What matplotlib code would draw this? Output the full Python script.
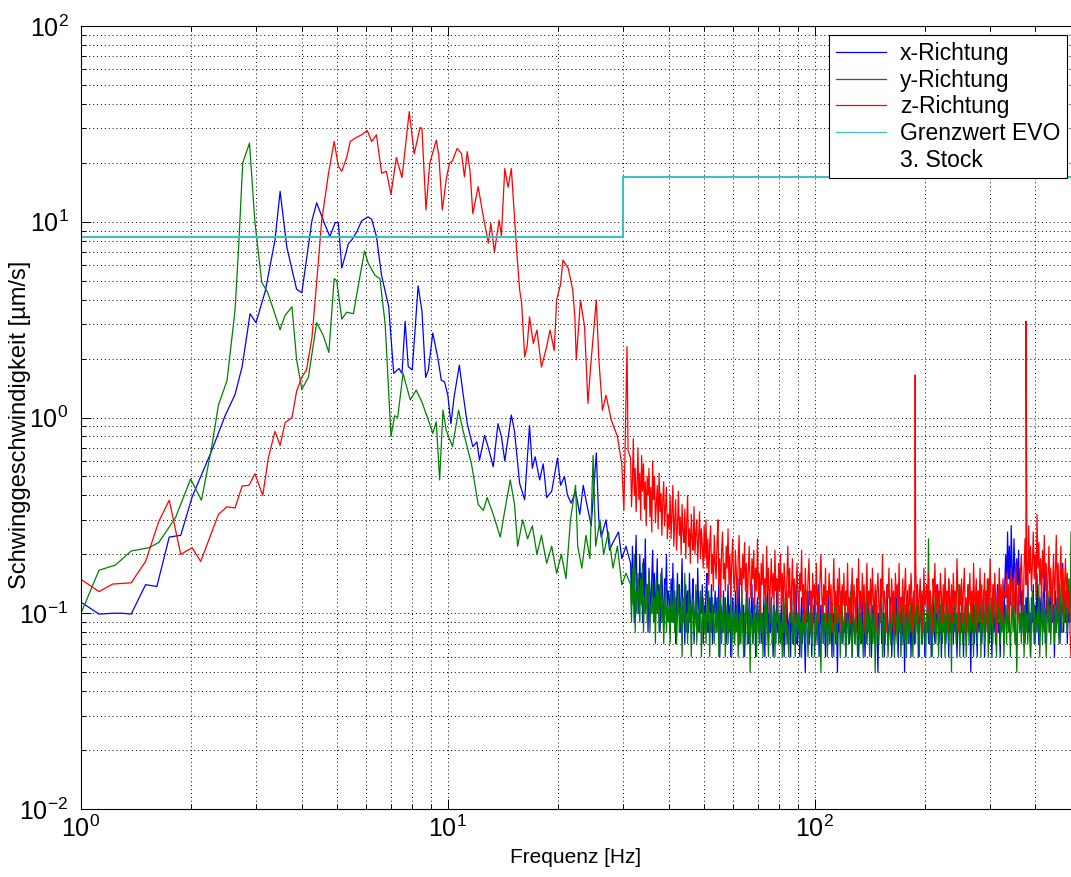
import numpy as np
import matplotlib.pyplot as plt
from matplotlib.lines import Line2D
from matplotlib.ticker import NullFormatter

plt.rcParams['font.family'] = ['Liberation Sans', 'DejaVu Sans']
plt.rcParams['mathtext.fontset'] = 'custom'
plt.rcParams['mathtext.rm'] = 'Liberation Sans'
plt.rcParams['mathtext.it'] = 'Liberation Sans:italic'

# --- low frequency part (1 .. 31 Hz), read point by point, in um/s ---
blue_f = [1.0, 1.12, 1.22, 1.30, 1.37, 1.50, 1.61, 1.74, 1.87, 2.01, 2.27, 2.47,
          2.63, 2.75, 2.89, 3.0, 3.18, 3.38, 3.49, 3.64, 3.87, 4.0, 4.26, 4.39,
          4.62, 4.77, 4.93, 5.03, 5.14, 5.36, 5.47, 5.65, 5.82, 6.06, 6.2, 6.39,
          6.6, 6.9, 7.12, 7.36, 7.5, 7.65, 7.8, 8.0, 8.3, 8.5, 8.7, 8.85, 9.1,
          9.4, 9.6, 9.8, 10.0, 10.2, 10.4, 10.75, 11.0, 11.3, 11.7, 12.0, 12.2,
          12.6, 12.9, 13.3, 13.7, 14.0, 14.3, 14.9, 15.2, 15.7, 16.2, 16.7, 17.0,
          17.3, 17.8, 18.2, 18.6, 19.2, 19.9, 20.3, 20.8, 21.2, 21.7, 22.3, 22.9,
          23.4, 23.9, 24.6, 25.4, 25.8, 26.2, 27.0, 27.6, 28.2, 29.2, 29.8, 30.6]
blue_v = [0.114, 0.099, 0.100, 0.100, 0.099, 0.140, 0.137, 0.245, 0.250, 0.394,
          0.675, 1.02, 1.31, 1.82, 3.39, 3.05, 4.43, 8.07, 14.3, 7.43, 4.52, 4.34,
          10.1, 12.5, 9.7, 8.4, 9.9, 9.9, 5.8, 7.74, 8.07, 8.9, 10.1, 10.6, 10.3,
          8.4, 5.3, 3.68, 1.68, 1.78, 1.68, 3.1, 1.82, 1.75, 4.7, 3.5, 1.6, 1.75,
          2.7, 2.0, 1.55, 1.52, 1.3, 0.93, 1.27, 1.85, 1.33, 0.93, 0.71, 0.75,
          0.605, 0.81, 0.70, 0.56, 0.93, 0.80, 0.60, 1.03, 0.85, 0.46, 0.38, 0.91,
          0.55, 0.63, 0.48, 0.58, 0.39, 0.42, 0.62, 0.45, 0.50, 0.40, 0.365, 0.42,
          0.32, 0.45, 0.365, 0.28, 0.66, 0.30, 0.245, 0.30, 0.21, 0.23, 0.26, 0.19,
          0.22]

green_f = [1.0, 1.12, 1.24, 1.37, 1.53, 1.63, 1.81, 1.99, 2.13, 2.27, 2.37, 2.5,
           2.63, 2.69, 2.76, 2.88, 2.98, 3.11, 3.23, 3.49, 3.60, 3.76, 3.87, 4.0,
           4.17, 4.39, 4.57, 4.74, 4.90, 4.98, 5.14, 5.3, 5.53, 5.7, 5.93, 6.06,
           6.33, 6.53, 6.75, 7.0, 7.16, 7.3, 7.55, 7.9, 8.2, 8.5, 8.85, 9.1, 9.3,
           9.5, 9.7, 9.9, 10.3, 10.7, 11.0, 11.6, 12.1, 12.5, 12.8, 13.3, 13.9,
           14.3, 14.8, 15.2, 15.5, 16.0, 16.5, 17.0, 17.5, 18.0, 18.6, 19.2, 19.8,
           20.4, 21.0, 21.6, 22.3, 22.6, 23.2, 23.8, 24.4, 24.9, 25.3, 26.0, 26.6,
           27.4, 28.2, 29.0, 29.8, 30.6]
green_v = [0.10, 0.166, 0.176, 0.208, 0.216, 0.23, 0.308, 0.485, 0.378, 0.70,
           1.16, 1.54, 3.53, 7.43, 20.0, 25.2, 9.9, 4.91, 4.34, 2.81, 3.32, 3.68,
           1.98, 1.39, 1.61, 3.05, 2.64, 2.15, 5.12, 5.0, 3.18, 3.45, 3.39, 4.71,
           7.1, 6.17, 5.33, 5.12, 2.99, 0.80, 1.02, 1.0, 1.68, 1.23, 1.38, 1.2,
           0.97, 0.83, 0.95, 0.48, 1.09, 0.86, 0.71, 1.09, 0.86, 0.58, 0.36,
           0.335, 0.39, 0.32, 0.245, 0.335, 0.48, 0.36, 0.22, 0.30, 0.24, 0.28,
           0.20, 0.25, 0.18, 0.22, 0.16, 0.20, 0.15, 0.30, 0.45, 0.22, 0.17, 0.25,
           0.19, 0.64, 0.22, 0.30, 0.20, 0.26, 0.17, 0.22, 0.14, 0.16]

red_f = [1.0, 1.12, 1.22, 1.37, 1.50, 1.63, 1.74, 1.79, 1.87, 2.01, 2.12, 2.37,
         2.5, 2.63, 2.75, 2.87, 2.98, 3.13, 3.24, 3.38, 3.49, 3.6, 3.76, 3.87,
         4.0, 4.12, 4.26, 4.39, 4.53, 4.73, 4.9, 5.03, 5.14, 5.3, 5.42, 5.6,
         5.82, 6.03, 6.2, 6.39, 6.6, 6.8, 7.0, 7.24, 7.5, 7.85, 8.1, 8.4, 8.5,
         8.72, 8.93, 9.3, 9.45, 9.66, 9.9, 10.1, 10.3, 10.6, 10.9, 11.1, 11.3,
         11.5, 11.7, 12.1, 12.5, 12.9, 13.1, 13.4, 13.8, 14.0, 14.3, 14.6, 14.9,
         15.2, 15.4, 15.7, 15.9, 16.2, 16.45, 16.7, 17.1, 17.5, 18.0, 18.6, 19.0,
         19.5, 19.8, 20.3, 20.6, 21.3, 21.9, 22.2, 22.4, 23.0, 23.6, 24.1, 24.5,
         25.4, 25.8, 26.4, 27.0, 27.9, 29.0, 29.8, 30.2, 30.8, 31.0]
red_v = [0.149, 0.129, 0.141, 0.143, 0.184, 0.295, 0.378, 0.295, 0.20, 0.216,
         0.184, 0.32, 0.35, 0.345, 0.447, 0.45, 0.516, 0.40, 0.62, 0.85, 0.72,
         0.94, 1.0, 1.36, 1.61, 1.75, 2.54, 4.9, 10.1, 17.7, 25.7, 19.2, 18.1,
         21.3, 25.7, 26.8, 27.8, 29.3, 25.7, 27.8, 17.7, 18.1, 13.8, 21.3, 16.8,
         36.5, 22.2, 30.3, 30.0, 11.5, 19.9, 26.1, 22.0, 11.5, 16.4, 19.9, 20.5,
         23.7, 22.3, 17.0, 22.8, 18.0, 11.0, 15.1, 10.6, 7.77, 9.8, 7.0, 10.2,
         8.5, 18.7, 15.0, 18.7, 10.6, 7.2, 4.48, 3.83, 2.04, 2.3, 3.27, 2.39,
         2.8, 1.81, 2.3, 2.8, 2.2, 3.98, 4.8, 6.37, 5.78, 4.5, 3.27, 1.97, 3.98,
         2.9, 1.18, 1.8, 3.98, 2.0, 1.09, 1.3, 0.97, 0.80, 0.58, 0.335, 2.3, 0.68]

# --- noise floor 31.5 .. 500 Hz, log spaced bins, in 1/100 um/s ---
blue_noise = [
    18, 11, 22, 14, 9, 17, 25, 12, 15, 10, 20, 13, 16, 9, 19, 12, 24, 11, 14, 8,
    17, 13, 10, 15, 21, 11, 16, 9, 13, 19, 10, 14, 8, 12, 17, 11, 9, 15, 12, 20,
    10, 13,
    12, 8, 15, 10, 18, 9, 13, 7, 11, 16, 10, 14, 8, 12, 19, 9, 11, 7, 14, 10,
    13, 8, 16, 11, 9, 12, 15, 7, 10, 13, 9, 17, 11, 8, 12, 10, 14, 7, 11, 9,
    13, 16, 8, 10, 12, 9, 14, 7, 11, 10, 13, 8, 12, 9, 15, 6, 11, 10, 8, 13,
    9, 12, 7, 10, 14, 8, 11, 6, 9, 12, 10, 7, 13, 9, 11, 8, 15, 7, 10, 12,
    8, 11, 6, 9, 13, 10, 7, 12, 8, 10, 14, 7, 9, 11, 6, 10, 12, 8, 9, 13,
    7, 10, 8, 12, 6, 11, 9, 14, 7, 10, 8, 12, 9, 6, 11, 10, 7, 13, 8, 9,
    10, 7, 12, 8, 9, 6, 11, 8, 13, 7, 9, 10, 6, 12, 8, 7, 11, 9, 14, 7,
    8, 10, 6, 9, 12, 7, 11, 8, 5, 10, 9, 13, 7, 8, 11, 6, 10, 9, 12, 7,
    8, 10, 14, 6, 9, 11, 7, 12, 8, 9, 6, 10, 8, 13, 7, 9, 11, 6, 10, 8,
    12, 7, 9, 5, 11, 8, 10, 13, 7, 9, 8, 11, 6, 10, 9, 12, 7, 8, 14, 6,
    10, 9, 7, 11, 8, 12, 6, 9, 10, 7, 13, 8, 9, 6, 11, 7, 10, 12, 8, 9,
    6, 10, 11, 7, 9, 13, 8, 5, 10, 9, 12, 7, 8, 11, 6, 10, 9, 14, 7, 8,
    10, 12, 6, 9, 11, 7, 8, 13, 9, 6, 10, 8, 12, 7, 9, 11, 5, 10, 8, 13,
    7, 9, 10, 6, 12, 8, 11, 7, 9, 10, 14, 6, 8, 11, 9, 7, 12, 10, 6, 9,
    8, 13, 7, 10, 11, 6, 9, 12, 8, 7, 10, 9, 14, 7, 8, 11, 6, 10, 12, 8,
    9, 7, 11, 10, 6, 13, 8, 9, 12, 7, 11, 8, 10, 6, 9, 13, 7, 10, 8, 12,
    6, 9, 11, 7, 10, 14, 8, 9, 5, 11, 8, 12, 7, 10, 9, 6, 13, 8, 11, 9,
    7, 10, 12, 6, 9, 11, 8, 13, 7, 10, 9, 6, 12, 8, 11, 7, 10, 14, 8, 9,
    6, 11, 9, 12, 7,
    14, 20, 12, 26, 15, 22, 11, 28, 17, 13, 24, 16, 10, 19, 14, 21, 11, 17,
    9, 13, 8, 11, 7, 12, 9, 15, 8, 10, 6, 12, 9, 14, 7, 11, 8, 16, 10, 7,
    12, 9, 13, 8, 11, 17, 7, 10, 14, 9, 12, 8, 15, 10, 9, 11, 6, 13, 8, 12,
    9, 14, 7, 11, 10, 18, 8, 12, 9, 13, 7, 11, 9, 15, 10]

green_noise = [
    14, 9, 17, 11, 20, 8, 13, 10, 16, 12, 9, 15, 11, 18, 8, 12, 10, 14, 9, 13,
    16, 8, 11, 10, 14, 9, 12, 7, 15, 10, 13, 8, 11, 16, 9, 12, 7, 10, 14, 8,
    11, 9,
    11, 7, 13, 9, 10, 15, 8, 12, 7, 10, 14, 8, 9, 11, 6, 12, 9, 16, 8, 10,
    7, 13, 9, 11, 6, 10, 12, 8, 9, 14, 7, 10, 8, 11, 13, 6, 9, 12, 8, 10,
    7, 11, 9, 13, 6, 10, 8, 12, 9, 7, 11, 10, 8, 12, 6, 9, 13, 7, 10, 8,
    12, 6, 9, 11, 7, 10, 8, 14, 6, 9, 11, 7, 10, 8, 12, 6, 9, 10, 7, 13,
    8, 6, 10, 9, 12, 7, 8, 11, 5, 10, 9, 7, 12, 8, 10, 6, 11, 9, 7, 13,
    8, 10, 6, 9, 11, 7, 12, 8, 6, 10, 9, 12, 7, 8, 11, 6, 10, 9, 13, 7,
    10, 7, 9, 6, 11, 8, 12, 7, 9, 8, 6, 10, 9, 13, 7, 8, 11, 6, 9, 10,
    8, 12, 7, 9, 6, 10, 8, 11, 7, 13, 9, 6, 10, 8, 12, 7, 9, 11, 6, 8,
    10, 7, 13, 9, 8, 5, 11, 9, 7, 10, 8, 12, 6, 9, 10, 7, 11, 8, 9, 6,
    13, 8, 7, 10, 9, 11, 6, 8, 12, 7, 9, 10, 6, 8, 11, 7, 9, 13, 8, 6,
    10, 9, 7, 12, 8, 6, 9, 11, 7, 10, 8, 6, 11, 9, 7, 13, 8, 10, 6, 9,
    12, 7, 8, 10, 5, 9, 11, 8, 7, 10, 9, 13, 6, 8, 10, 7, 12, 9, 6, 8,
    11, 7, 9, 10, 8, 6, 12, 9, 7, 11, 8, 10, 6, 9, 13, 7, 8, 11, 6, 10,
    9, 7, 12, 8, 10, 6, 9, 11, 7, 13, 8, 9, 6, 10, 12, 7, 8, 11, 9, 6,
    10, 8, 24, 7, 9, 11, 6, 10, 8, 12, 7, 9, 10, 6, 11, 8, 13, 7, 9, 10,
    6, 12, 8, 9, 7, 11, 10, 5, 13, 8, 9, 11, 7, 10, 8, 14, 6, 9, 12, 7,
    10, 8, 11, 6, 9, 13, 7, 10, 8, 12, 9, 6, 11, 8, 14, 7, 10, 9, 12, 6,
    11, 8, 13, 7, 10, 9, 15, 6, 11, 8, 12, 9, 7, 14, 10, 8, 6, 11, 9, 13,
    7, 10, 8, 12, 6, 9, 11, 7, 13, 8, 10, 6, 9, 12, 8, 11, 7, 10, 5, 9,
    13, 8, 10, 7, 12, 9, 6, 11, 8, 10, 7, 12, 9, 6, 10, 13, 8, 11, 7, 9,
    10, 8, 14, 6, 9, 11, 7, 12, 8, 10, 6, 9, 13, 8, 11, 7, 10, 12, 9, 7,
    11, 8, 12, 9, 7, 14, 10, 8, 16, 11, 9, 13, 10, 8, 15, 11, 9, 26]

red_noise = [
    62, 35, 48, 78, 40, 55, 33, 45, 70, 38, 52, 30, 64, 42, 58, 34, 47, 28, 50, 40,
    55, 31, 44, 26, 60, 38, 50, 29, 36, 45, 27, 52, 33, 41, 25, 38, 47, 28, 35, 44,
    24, 32,
    27, 40, 24, 33, 45, 22, 30, 38, 21, 28, 42, 25, 31, 20, 36, 26, 23, 34, 19, 29,
    40, 22, 27, 18, 32, 24, 21, 35, 20, 26, 30, 18, 24, 33, 19, 27, 22, 17, 28,
    19, 30, 17, 24, 14, 22, 28, 16, 20, 13, 25, 18, 15, 23, 30, 14, 19, 12, 21, 26,
    15, 18, 13, 22, 17, 27, 14, 20, 12, 18, 24, 15, 13, 21, 16, 11, 19, 25, 14, 17,
    12, 20, 15, 23, 13, 18, 11, 16, 22, 14, 12, 19, 15, 21, 11, 17, 13, 24, 12, 16,
    10, 18, 14, 20, 12, 15, 11, 22, 13, 17, 10, 14, 19, 12, 16, 11, 21, 13, 15, 10,
    18,
    13, 20, 11, 16, 10, 18, 14, 9, 15, 22, 12, 17, 10, 13, 19, 11, 15, 9, 14, 18,
    12, 10, 16, 13, 21, 11, 14, 9, 17, 12, 10, 15, 19, 11, 13, 8, 16, 12, 14, 10,
    18, 11, 13, 9, 15, 20, 12, 10, 14, 11, 17, 9, 13, 12, 16, 10, 14, 8, 12, 19,
    11, 13, 9, 15, 10, 17, 12, 8, 14, 11, 16, 9, 13, 11, 18, 10, 12, 9,
    12, 17, 9, 14, 11, 8, 15, 12, 19, 10, 13, 9, 16, 11, 14, 8, 12, 18, 10, 13,
    11, 15, 9, 17, 12, 10, 14, 8, 13, 16, 11, 9, 15, 12, 20, 10, 13, 11, 8, 14,
    12, 17, 9, 11, 15, 10, 13, 8, 16, 12, 14, 10, 18, 9, 12, 11, 15, 8, 13, 17,
    10, 12, 9, 14, 11, 16, 12, 8, 13, 10, 19, 11, 14, 9, 12, 15, 10, 13, 8, 17,
    11, 12, 14, 9, 16, 10, 13, 11, 8, 15, 12, 18, 10, 14, 9, 13, 11, 16, 12, 9,
    14, 10, 17, 11, 13, 8, 15, 12, 10, 14, 9, 16, 11, 13, 10, 19, 12, 8, 14, 11,
    15, 9, 13, 17, 10, 12, 8, 14, 11, 16, 10, 13, 9, 18, 12, 11, 15, 8, 13, 10,
    17, 11, 14, 9, 12, 16, 10, 13, 8, 15, 11, 19, 12, 9, 14, 10, 16, 12, 8, 13,
    11, 17, 10, 14, 9, 15, 12, 13,
    12, 16, 10, 14, 9, 13, 17, 11, 15, 10, 13, 18, 12, 9, 14, 11, 16, 20, 13, 10,
    17, 24, 14, 19, 12, 28, 16, 22, 13, 18, 26, 15, 20, 12, 32, 17, 23, 14, 19, 11,
    21, 15, 25, 13, 18, 10, 16, 22, 12, 17, 9, 14, 20, 11, 16, 25, 12, 18, 10, 15,
    22, 12, 17, 9, 14, 19, 11, 16, 10, 13, 8, 6]

# narrow peaks in z direction
red_peak_f = [188.0, 377.0]
red_peak_v = [1.65, 3.1]

# limit EVO, 3rd floor
limit_f = [1.0, 30.0, 30.0, 500.0]
limit_v = [8.4, 8.4, 17.0, 17.0]

NOISE_START = 31.5
F_MAX = 500.0


def build_series(f_low, v_low, noise, peak_f=(), peak_v=()):
    noise_f = np.geomspace(NOISE_START, F_MAX, len(noise))
    f = np.concatenate([f_low, noise_f, peak_f])
    v = np.concatenate([v_low, np.array(noise) / 100.0, peak_v])
    order = np.argsort(f)
    return f[order], v[order]


if __name__ == '__main__':
    fig = plt.figure(figsize=(10.71, 8.77), dpi=100)
    ax = fig.add_axes([81 / 1071, 68 / 877, 990 / 1071, 783 / 877])

    series = [
        (build_series(blue_f, blue_v, blue_noise), '#0000ff'),
        (build_series(green_f, green_v, green_noise), '#008000'),
        (build_series(red_f, red_v, red_noise, red_peak_f, red_peak_v), '#ff0000'),
    ]
    for (f, v), c in series:
        ax.plot(f, v, color=c, lw=0.9)
    ax.plot(limit_f, limit_v, color='#3fbfbf', lw=1.5)

    ax.set_xscale('log')
    ax.set_yscale('log')
    ax.set_xlim(1, F_MAX)
    ax.set_ylim(1e-2, 1e2)

    ax.grid(True, which='both', color='k', lw=0.7, linestyle=(0, (1, 3)))
    ax.tick_params(which='both', direction='in', top=True, right=False,
                   width=0.7, labelsize=18)
    ax.tick_params(which='major', length=7)
    ax.tick_params(axis='x', which='major', pad=5)
    ax.tick_params(axis='y', which='major', pad=9)
    ax.tick_params(which='minor', length=3.5)
    ax.xaxis.set_minor_formatter(NullFormatter())
    ax.yaxis.set_minor_formatter(NullFormatter())
    for s in ax.spines.values():
        s.set_linewidth(0.8)
    ax.spines['right'].set_visible(False)

    ax.set_xlabel('Frequenz [Hz]', fontsize=15, labelpad=4)
    ax.set_ylabel('Schwinggeschwindigkeit [µm/s]', fontsize=17)
    ax.yaxis.set_label_coords(-50 / 990, 0.49)

    colors = ['#0000ff', '#008000', '#ff0000', '#3fbfbf', 'none']
    handles = [Line2D([], [], color=c, lw=0.9) for c in colors]
    labels = ['x-Richtung', 'y-Richtung', 'z-Richtung', 'Grenzwert EVO', '3. Stock']
    leg = ax.legend(handles, labels, loc='upper right',
                    bbox_to_anchor=(1 - 4 / 990, 1 - 9 / 783), borderaxespad=0,
                    fancybox=False, edgecolor='k', framealpha=1, fontsize=16.5,
                    handlelength=2.2, handletextpad=0.6, labelspacing=0.16,
                    borderpad=0.3)
    leg.get_frame().set_linewidth(0.8)

    fig.savefig('out.png', dpi=100)
